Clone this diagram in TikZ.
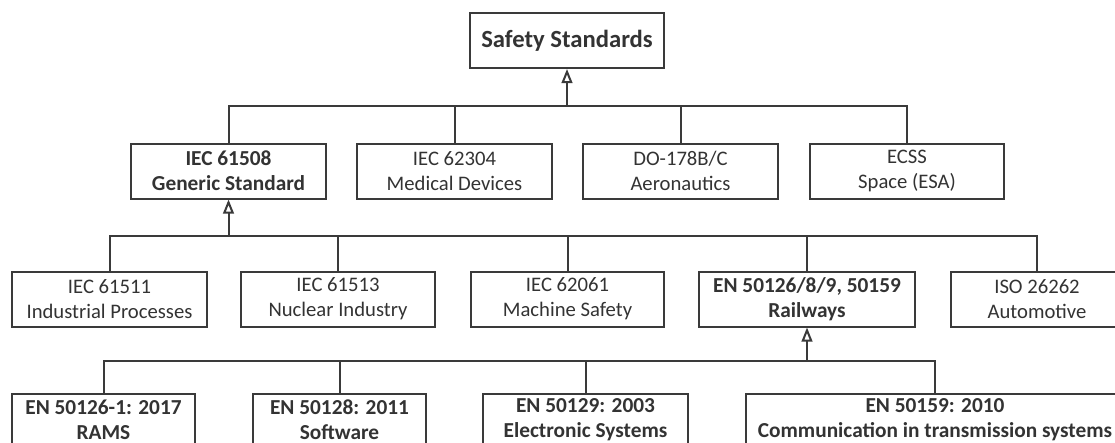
\documentclass[tikz,border=0pt]{standalone}
\usepackage{fontspec}
\setmainfont{Carlito}
\usetikzlibrary{arrows.meta}
\definecolor{ink}{HTML}{3A3A3A}
\definecolor{txt}{HTML}{333333}
\begin{document}
\begin{tikzpicture}[x=0.75pt,y=-0.75pt,
  box/.style={draw=ink, line width=1.5pt, fill=white, text=txt, align=center,
    inner sep=0pt, minimum height=55*0.75pt,
    font=\fontsize{15.5}{18.75}\selectfont},
  key/.style={box, font=\fontsize{16}{18.75}\selectfont\bfseries},
  rootbox/.style={box, font=\fontsize{18.5}{22}\selectfont\bfseries},
  leaf/.style={key, minimum height=52*0.75pt},
  link/.style={draw=ink, line width=1.5pt},
  inherit/.style={link, -{Triangle[open, length=10.5pt, width=8pt]}}
]
\useasboundingbox (0,0) rectangle (1115,443);
\fill[white] (0,0) rectangle (1115,443);
\clip (0,0) rectangle (1115,443);

% root
\node[rootbox, minimum width=194*0.75pt] (root) at (567,40.5) {Safety Standards};

% domain standards
\node[key, minimum width=195*0.75pt] (iec61508) at (228.5,171) {IEC 61508\\Generic Standard};
\node[box, minimum width=195*0.75pt] (iec62304) at (454.5,171) {IEC 62304\\Medical Devices};
\node[box, minimum width=195*0.75pt] (do178) at (680.5,171) {DO-178B/C\\Aeronautics};
\node[box, minimum width=194*0.75pt] (ecss) at (907,171) {ECSS\\Space (ESA)};

% sector standards derived from IEC 61508
\node[box, minimum width=195*0.75pt] (iec61511) at (109.5,299) {IEC 61511\\Industrial Processes};
\node[box, minimum width=194*0.75pt] (iec61513) at (338,299) {IEC 61513\\Nuclear Industry};
\node[box, minimum width=193*0.75pt] (iec62061) at (567.5,299) {IEC 62061\\Machine Safety};
\node[key, minimum width=216*0.75pt] (rail) at (807,299) {EN 50126/8/9, 50159\\Railways};
\node[box, minimum width=172*0.75pt] (iso26262) at (1037,299) {ISO 26262\\Automotive};

% railway standards
\node[leaf, minimum width=183*0.75pt] (en50126) at (103.5,420) {EN 50126-1: 2017\\RAMS};
\node[leaf, minimum width=173*0.75pt] (en50128) at (339.5,420) {EN 50128: 2011\\Software};
\node[leaf, minimum width=205*0.75pt] (en50129) at (585.5,420) {EN 50129: 2003\\Electronic Systems};
\node[leaf, minimum width=378*0.75pt] (en50159) at (935,420) {EN 50159: 2010\\Communication in transmission systems};

% bus junctions
\coordinate (busA) at (root.south |- 0,106);
\coordinate (busB) at (iec61508.south |- 0,235.5);
\coordinate (busC) at (rail.south |- 0,361);

% level 1
\draw[link] (busA) -| (iec61508.north);
\draw[link] (busA) -| (iec62304.north);
\draw[link] (busA) -| (do178.north);
\draw[link] (busA) -| (ecss.north);
\draw[inherit] (busA) -- (root.south);

% level 2
\draw[link] (busB) -| (iec61511.north);
\draw[link] (busB) -| (iec61513.north);
\draw[link] (busB) -| (iec62061.north);
\draw[link] (busB) -| (rail.north);
\draw[link] (busB) -| (iso26262.north);
\draw[inherit] (busB) -- (iec61508.south);

% level 3
\draw[link] (busC) -| (en50126.north);
\draw[link] (busC) -| (en50128.north);
\draw[link] (busC) -| (en50129.north);
\draw[link] (busC) -| (en50159.north);
\draw[inherit] (busC) -- (rail.south);
\end{tikzpicture}
\end{document}
